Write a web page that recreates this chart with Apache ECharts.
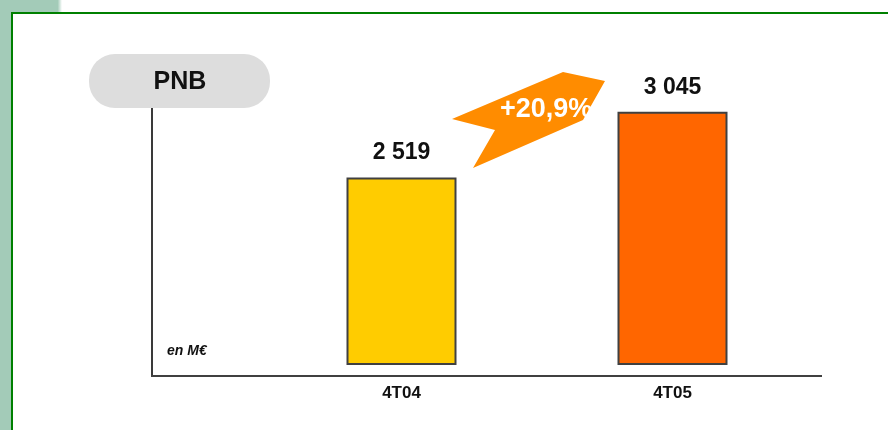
<!DOCTYPE html>
<html>
<head>
<meta charset="utf-8">
<title>PNB</title>
<script src="https://cdn.jsdelivr.net/npm/echarts@6/dist/echarts.min.js"></script>
<style>
  html, body { margin: 0; padding: 0; background: #fff; }
  #main { width: 888px; height: 430px; }
</style>
</head>
<body>
<div id="main"></div>
<script>
// données (M€)
const categories = ['4T04', '4T05'];
const pnbValues = [2519, 3045];
const valueLabels = ['2 519', '3 045'];
const growthLabel = '+20,9%';
const unitLabel = 'en M€';
const titleLabel = 'PNB';

const barColors = ['#ffcc00', '#ff6600'];
const sans = '"Liberation Sans", Arial, sans-serif';

let chart = echarts.init(document.getElementById('main'));

let option = {
  backgroundColor: '#ffffff',
  animation: false,
  grid: { left: 266, right: 80, top: 108, bottom: 66 },
  xAxis: {
    type: 'category',
    data: categories,
    axisLine: { show: false },
    axisTick: { show: false },
    axisLabel: {
      margin: 21,
      color: '#111',
      fontFamily: sans,
      fontWeight: 'bold',
      fontSize: 17
    }
  },
  yAxis: {
    type: 'value',
    min: 1030,
    max: 3075,
    axisLine: { show: false },
    axisTick: { show: false },
    axisLabel: { show: false },
    splitLine: { show: false }
  },
  series: [{
    type: 'bar',
    barWidth: 110,
    data: pnbValues.map((v, i) => ({
      value: v,
      itemStyle: { color: barColors[i] }
    })),
    itemStyle: { borderColor: '#404040', borderWidth: 2 },
    label: {
      show: true,
      position: 'top',
      distance: 13,
      color: '#111',
      fontFamily: sans,
      fontWeight: 'bold',
      fontSize: 23,
      formatter: p => valueLabels[p.dataIndex]
    }
  }],
  graphic: [
    // bande verte à gauche + cadre
    { type: 'rect', z: -10, shape: { x: 0, y: 0, width: 11, height: 430 }, style: { fill: '#a3cbb8' } },
    {
      type: 'rect', z: -10, shape: { x: 0, y: 0, width: 62, height: 12 },
      style: {
        fill: new echarts.graphic.LinearGradient(0, 0, 1, 0, [
          { offset: 0, color: '#a3cbb8' },
          { offset: 0.93, color: '#a3cbb8' },
          { offset: 1, color: '#ffffff' }
        ])
      }
    },
    { type: 'line', z: -5, shape: { x1: 11, y1: 13, x2: 888, y2: 13 }, style: { stroke: '#008000', lineWidth: 2 } },
    { type: 'line', z: -5, shape: { x1: 12, y1: 12, x2: 12, y2: 430 }, style: { stroke: '#008000', lineWidth: 2 } },
    // axes
    { type: 'line', z: 1, shape: { x1: 152, y1: 106, x2: 152, y2: 377 }, style: { stroke: '#3a3a3a', lineWidth: 2 } },
    { type: 'line', z: 1, shape: { x1: 151, y1: 376, x2: 822, y2: 376 }, style: { stroke: '#404040', lineWidth: 2 } },
    // titre
    { type: 'rect', z: 5, shape: { x: 89, y: 54, width: 181, height: 54, r: 26 }, style: { fill: '#dddddd' } },
    {
      type: 'text', z: 6, x: 180, y: 82,
      style: { text: titleLabel, fill: '#111', font: 'bold 25px ' + sans, align: 'center', verticalAlign: 'middle' }
    },
    {
      type: 'text', z: 6, x: 167, y: 351,
      style: { text: unitLabel, fill: '#111', font: 'italic bold 14px ' + sans, align: 'left', verticalAlign: 'middle' }
    },
    // flèche de croissance
    {
      type: 'polygon', z: 5,
      shape: { points: [[452, 119], [563, 72], [605, 81], [583, 120], [473, 168], [495, 130]] },
      style: { fill: '#ff8c00' }
    },
    {
      type: 'text', z: 6, x: 500, y: 110,
      style: { text: growthLabel, fill: '#ffffff', font: 'bold 27px ' + sans, align: 'left', verticalAlign: 'middle' }
    }
  ]
};

chart.setOption(option);
</script>
</body>
</html>
